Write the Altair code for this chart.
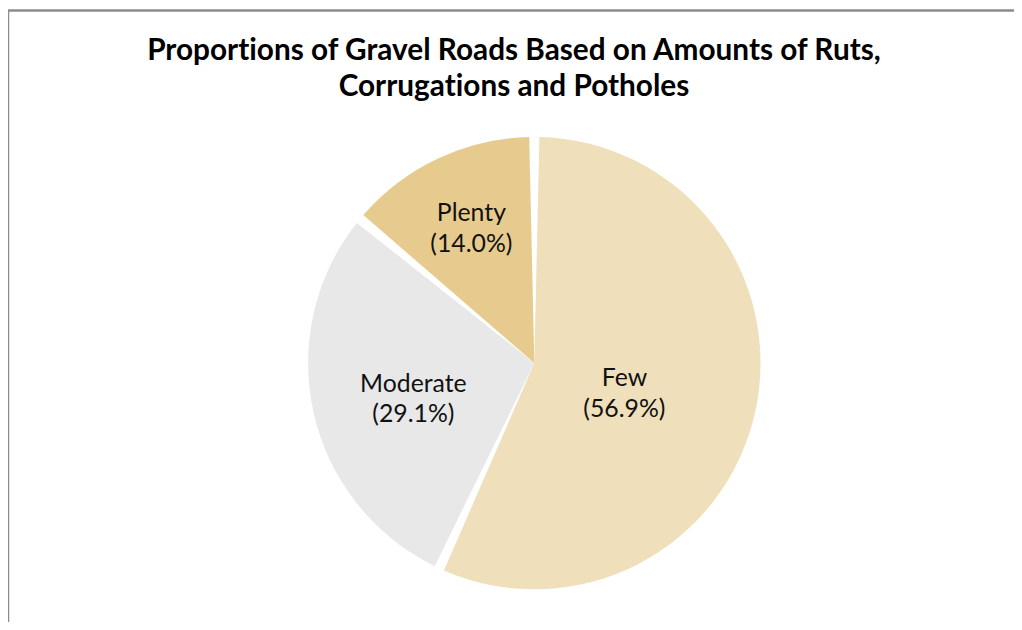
import altair as alt
import pandas as pd

categories = ["Few", "Moderate", "Plenty"]
percents = [56.9, 29.1, 14.0]
colors = ["#EFDFBA", "#E8E8E8", "#E7CB8E"]
title_lines = ["Proportions of Gravel Roads Based on Amounts of Ruts,", "Corrugations and Potholes"]

df = pd.DataFrame({"category": categories, "percent": percents, "idx": list(range(len(categories)))})

FONT = "Lato"
CX, CY = 530.5, 355.5
R = 228
LH = 31

base = alt.Chart(df)

arcs = base.mark_arc(padAngle=0.045, outerRadius=R).encode(
    theta=alt.Theta("percent:Q", stack=True),
    color=alt.Color("category:N", scale=alt.Scale(domain=categories, range=colors), legend=None),
    order=alt.Order("idx:Q"),
    x=alt.value(CX),
    y=alt.value(CY),
)

lab = base.transform_window(
    cum="sum(percent)", sort=[alt.SortField("idx")]
).transform_calculate(
    mid="datum.cum - datum.percent / 2",
    label="[datum.category, '(' + format(datum.percent, '.1f') + '%)']",
)

label_style = {"Few": (93, -5), "Moderate": (125, -7), "Plenty": (149, -16)}
text_layers = []
for c in categories:
    r, dy = label_style[c]
    text_layers.append(
        lab.transform_filter(alt.datum.category == c).mark_text(
            font=FONT, fontSize=25, lineHeight=LH, color="#111111",
            align="center", baseline="middle", dy=dy
        ).encode(
            theta=alt.Theta("mid:Q", stack=None),
            radius=alt.value(r),
            text=alt.Text("label:N"),
            x=alt.value(CX),
            y=alt.value(CY),
        )
    )

title_text = [s.replace("ti", "t\u200ci") for s in title_lines]
title = alt.Chart(pd.DataFrame({"t": [0]})).mark_text(
    font=FONT, fontSize=30, fontWeight="bold", lineHeight=36, color="#000000",
    align="center", baseline="middle"
).encode(
    x=alt.value(510), y=alt.value(41), text=alt.value(title_text)
)

frame_top = alt.Chart(pd.DataFrame({"t": [0]})).mark_rule(color="#8c8c8c", strokeWidth=2.5).encode(
    x=alt.value(0), x2=alt.value(1014), y=alt.value(0)
)
frame_left = alt.Chart(pd.DataFrame({"t": [0]})).mark_rule(color="#8c8c8c", strokeWidth=2.5).encode(
    x=alt.value(0), y=alt.value(0), y2=alt.value(622)
)

chart = alt.layer(arcs, *text_layers, title, frame_top, frame_left).properties(
    width=1014, height=614, padding=0, autosize=alt.AutoSizeParams(type="none"),
    background="white",
).configure_view(stroke=None)

chart.save("out.html", embed_options={"renderer": "svg", "actions": False})
